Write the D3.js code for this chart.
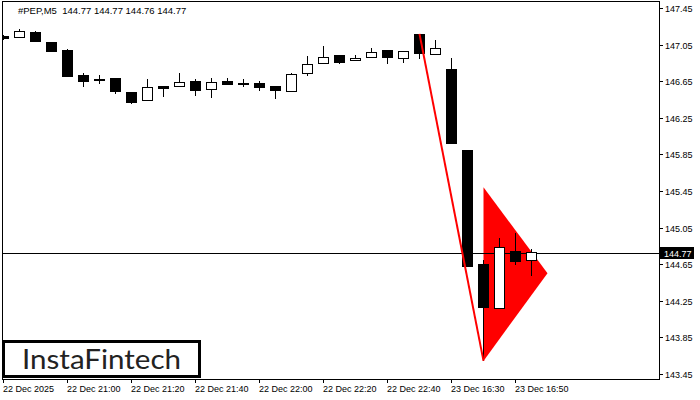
<!DOCTYPE html>
<html><head><meta charset="utf-8">
<script src="https://cdn.jsdelivr.net/npm/d3@7"></script>
<style>
html,body{margin:0;padding:0;background:#fff;}
svg{display:block;}
text{font-family:"Liberation Sans",Arial,sans-serif;}
</style></head>
<body>
<script>
// ---- data ----
const times = ["22 Dec 20:40","20:45","20:50","20:55","21:00","21:05","21:10","21:15","21:20","21:25","21:30","21:35",
  "21:40","21:45","21:50","21:55","22:00","22:05","22:10","22:15","22:20","22:25","22:30","22:35","22:40","22:45","22:50","22:55",
  "23 Dec 16:30","16:35","16:40","16:45","16:50","16:55","17:00"];
const opens  = [147.15,147.12,147.19,147.08,146.99,146.72,146.65,146.69,146.53,146.43,146.60,146.59,146.65,146.56,146.65,146.63,146.63,146.60,146.53,146.73,146.84,146.94,146.87,146.91,146.99,146.89,147.17,146.94,146.79,145.90,144.65,144.16,144.79,144.68,144.77];
const highs  = [147.16,147.22,147.20,147.08,147.00,146.74,146.72,146.69,146.53,146.68,146.60,146.74,146.68,146.69,146.69,146.68,146.65,146.60,146.74,146.93,147.04,146.94,146.94,147.02,146.99,146.98,147.17,147.10,146.91,145.90,144.70,144.94,144.99,144.82,144.77];
const lows   = [147.10,147.12,147.08,146.97,146.70,146.59,146.62,146.51,146.40,146.43,146.48,146.59,146.49,146.47,146.61,146.59,146.55,146.46,146.53,146.71,146.84,146.84,146.87,146.91,146.84,146.85,146.89,146.94,145.96,144.62,143.59,144.16,144.64,144.52,144.76];
const closes = [147.11,147.20,147.08,146.97,146.70,146.64,146.68,146.53,146.41,146.59,146.57,146.64,146.55,146.64,146.61,146.61,146.58,146.55,146.73,146.84,146.92,146.85,146.91,146.97,146.91,146.98,146.95,147.02,145.96,144.62,144.17,144.84,144.67,144.78,144.77];
const xTickIndex  = [0,4,8,12,16,20,24,28,32];
const xTickLabels = ["22 Dec 2025","22 Dec 21:00","22 Dec 21:20","22 Dec 21:40","22 Dec 22:00","22 Dec 22:20","22 Dec 22:40","23 Dec 16:30","23 Dec 16:50"];
const yTicks = [147.45,147.05,146.65,146.25,145.85,145.45,145.05,144.65,144.25,143.85,143.45];
const currentPrice = 144.77;
const titleText = "#PEP,M5  144.77 144.77 144.76 144.77";
const flagpole = [[26,147.17],[30,143.59]];
const pennant  = [[30,145.49],[30,143.59],[34,144.55]];
const logoText = "InstaFintech";

// ---- layout ----
const W = 700, H = 400;
const pL = 2, pR = 659, pT = 1, pB = 379;
const x = d3.scaleLinear().domain([0, 34]).range([3.5, 547.5]);
const y = d3.scaleLinear().domain([143.45, 147.45]).range([373.7, 8.3]);
const py = v => Math.round(y(v));

const svg = d3.select("body").append("svg").attr("width", W).attr("height", H);
svg.append("rect").attr("width", W).attr("height", H).attr("fill", "#fff");

svg.append("defs").append("clipPath").attr("id", "plot")
  .append("rect").attr("x", pL + 1).attr("y", pT + 1).attr("width", pR - pL - 1).attr("height", pB - pT - 1);

const plot = svg.append("g").attr("clip-path", "url(#plot)");

// pennant (background)
plot.append("path")
  .attr("d", d3.line().x(d => x(d[0])).y(d => y(d[1]))(pennant) + "Z")
  .attr("fill", "#ff0000");

// current price line
plot.append("line").attr("x1", pL).attr("x2", pR)
  .attr("y1", py(currentPrice) + 0.5).attr("y2", py(currentPrice) + 0.5)
  .attr("stroke", "#000").attr("stroke-width", 1).attr("shape-rendering", "crispEdges");

// candles
const candles = d3.range(times.length).map(i => ({i, o: opens[i], h: highs[i], l: lows[i], c: closes[i]}));
const cg = plot.append("g").attr("shape-rendering", "crispEdges");
candles.forEach(d => {
  const cx = x(d.i);
  const g = cg.append("g");
  g.append("line").attr("x1", cx).attr("x2", cx)
    .attr("y1", py(d.h)).attr("y2", Math.max(py(d.l), py(d.h) + 1))
    .attr("stroke", "#000").attr("stroke-width", 1);
  const t = py(Math.max(d.o, d.c)), b = py(Math.min(d.o, d.c));
  if (d.o === d.c) {
    g.append("rect").attr("x", cx - 1.5).attr("y", t).attr("width", 2).attr("height", 1).attr("fill", "#000");
  } else if (d.c < d.o) {
    g.append("rect").attr("x", cx - 5.5).attr("y", t).attr("width", 11).attr("height", Math.max(1, b - t)).attr("fill", "#000");
  } else {
    g.append("rect").attr("x", cx - 5).attr("y", t + 0.5).attr("width", 10).attr("height", Math.max(1, b - t - 1))
      .attr("fill", "#fff").attr("stroke", "#000").attr("stroke-width", 1);
  }
});

// flagpole line
plot.append("path")
  .attr("d", d3.line().x(d => x(d[0])).y(d => y(d[1]))(flagpole))
  .attr("stroke", "#ff0000").attr("stroke-width", 2).attr("fill", "none");

// frame
const fr = svg.append("g").attr("stroke", "#000").attr("stroke-width", 1).attr("shape-rendering", "crispEdges");
fr.append("line").attr("x1", pL + 0.5).attr("x2", pL + 0.5).attr("y1", pT).attr("y2", pB + 1);
fr.append("line").attr("x1", pL).attr("x2", pR + 1).attr("y1", pT + 0.5).attr("y2", pT + 0.5);
fr.append("line").attr("x1", pR + 0.5).attr("x2", pR + 0.5).attr("y1", pT).attr("y2", pB + 1);
fr.append("line").attr("x1", pL).attr("x2", pR + 1).attr("y1", pB + 0.5).attr("y2", pB + 0.5);

// y axis
const ya = svg.append("g");
yTicks.forEach(v => {
  ya.append("line").attr("x1", pR + 1).attr("x2", pR + 4).attr("y1", py(v) + 0.5).attr("y2", py(v) + 0.5)
    .attr("stroke", "#000").attr("shape-rendering", "crispEdges");
  ya.append("text").attr("x", 665).attr("y", py(v) + 4).attr("font-size", 9).attr("fill", "#000").text(v.toFixed(2));
});
// current price tag
ya.append("rect").attr("x", 660).attr("y", py(currentPrice) - 6).attr("width", 34).attr("height", 12).attr("fill", "#000");
ya.append("text").attr("x", 664).attr("y", py(currentPrice) + 4).attr("font-size", 9).attr("fill", "#fff").text(currentPrice.toFixed(2));

// x axis
const xa = svg.append("g");
xTickIndex.forEach((idx, k) => {
  const tx = x(idx);
  xa.append("line").attr("x1", tx).attr("x2", tx).attr("y1", pB + 1).attr("y2", pB + 4)
    .attr("stroke", "#000").attr("shape-rendering", "crispEdges");
  xa.append("text").attr("x", tx - 0.5).attr("y", 392).attr("font-size", 9).attr("fill", "#000").text(xTickLabels[k]);
});

// title
svg.append("text").attr("x", 18).attr("y", 14).attr("font-size", 9.5).attr("fill", "#000")
  .attr("xml:space", "preserve").style("white-space", "pre").text(titleText);

// logo
svg.append("rect").attr("x", 3.5).attr("y", 341.5).attr("width", 196).attr("height", 35)
  .attr("fill", "#fff").attr("stroke", "#000").attr("stroke-width", 3);
svg.append("text").attr("x", 22).attr("y", 369).attr("font-size", 27)
  .style("font-family", "Lato, 'Open Sans', sans-serif").attr("fill", "#222")
  .attr("textLength", 159).attr("lengthAdjust", "spacingAndGlyphs").text(logoText);
</script>
</body></html>
